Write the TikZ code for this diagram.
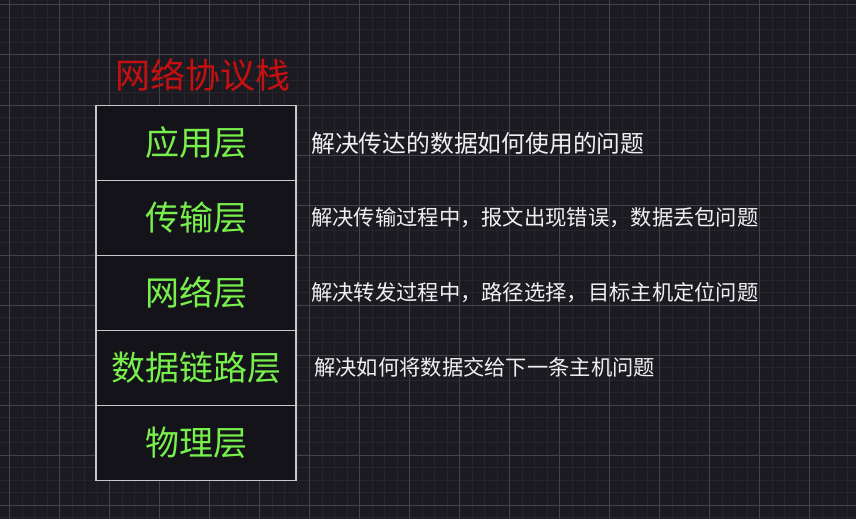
\documentclass[tikz,border=0pt]{standalone}
\usepackage{fontspec}
\usepackage{tikz}
\usetikzlibrary{positioning}
\newfontfamily\cjk{Noto Sans CJK SC}
\definecolor{boardbg}{HTML}{1B1A21}
\definecolor{gridminor}{HTML}{26252C}
\definecolor{gridmajor}{HTML}{434248}
\definecolor{layerfill}{HTML}{15131A}
\definecolor{layeredge}{HTML}{C8C8C8}
\definecolor{layergreen}{HTML}{78F04C}
\definecolor{titlered}{HTML}{C80F0F}

\begin{document}
\begin{tikzpicture}[
  x=1pt, y=-1pt,
  layer/.style={draw=layeredge, line width=1.4pt, fill=layerfill, minimum width=200pt, minimum height=75pt,
    inner sep=0pt, text=layergreen, font=\cjk\fontsize{34}{37}\selectfont},
  note/.style={anchor=west, inner sep=0pt, text=white!94!black, font=\cjk\fontsize{21.3}{24}\selectfont},
  heading/.style={inner sep=0pt, text=titlered, font=\cjk\fontsize{35}{38}\selectfont}
]

% --- background grid ---------------------------------------------------------
\useasboundingbox (0,0) rectangle (856,519);
\fill[boardbg] (0,0) rectangle (856,519);
\foreach \i in {0,...,70} {
  \draw[gridminor, line width=1pt] ({-3+12.5*\i},0) -- ({-3+12.5*\i},519);
}
\foreach \j in {0,...,42} {
  \draw[gridminor, line width=1pt] (0,{5+12.5*\j}) -- (856,{5+12.5*\j});
}
\foreach \i in {0,...,17} {
  \draw[gridmajor, line width=1pt] ({9.5+50*\i},0) -- ({9.5+50*\i},519);
}
\foreach \j in {0,...,10} {
  \draw[gridmajor, line width=1pt] (0,{5+50*\j}) -- (856,{5+50*\j});
}

% --- stack -------------------------------------------------------------------
\node[heading] (stack) at (203,75) {网络协议栈};

\node[layer] (app)   at (196,143) {应用层};
\node[layer] (trans) at (196,218) {传输层};
\node[layer] (net)   at (196,293) {网络层};
\node[layer] (link)  at (196,368) {数据链路层};
\node[layer] (phys)  at (196,443) {物理层};

% --- notes -------------------------------------------------------------------
\node[note, font=\cjk\fontsize{23.8}{26}\selectfont] (appnote) at (311,143) {解决传达的数据如何使用的问题};
\node[note] (transnote) at (311,218) {解决传输过程中，报文出现错误，数据丢包问题};
\node[note] (netnote)   at (311,293) {解决转发过程中，路径选择，目标主机定位问题};
\node[note] (linknote)  at (314,367) {解决如何将数据交给下一条主机问题};

\end{tikzpicture}
\end{document}
